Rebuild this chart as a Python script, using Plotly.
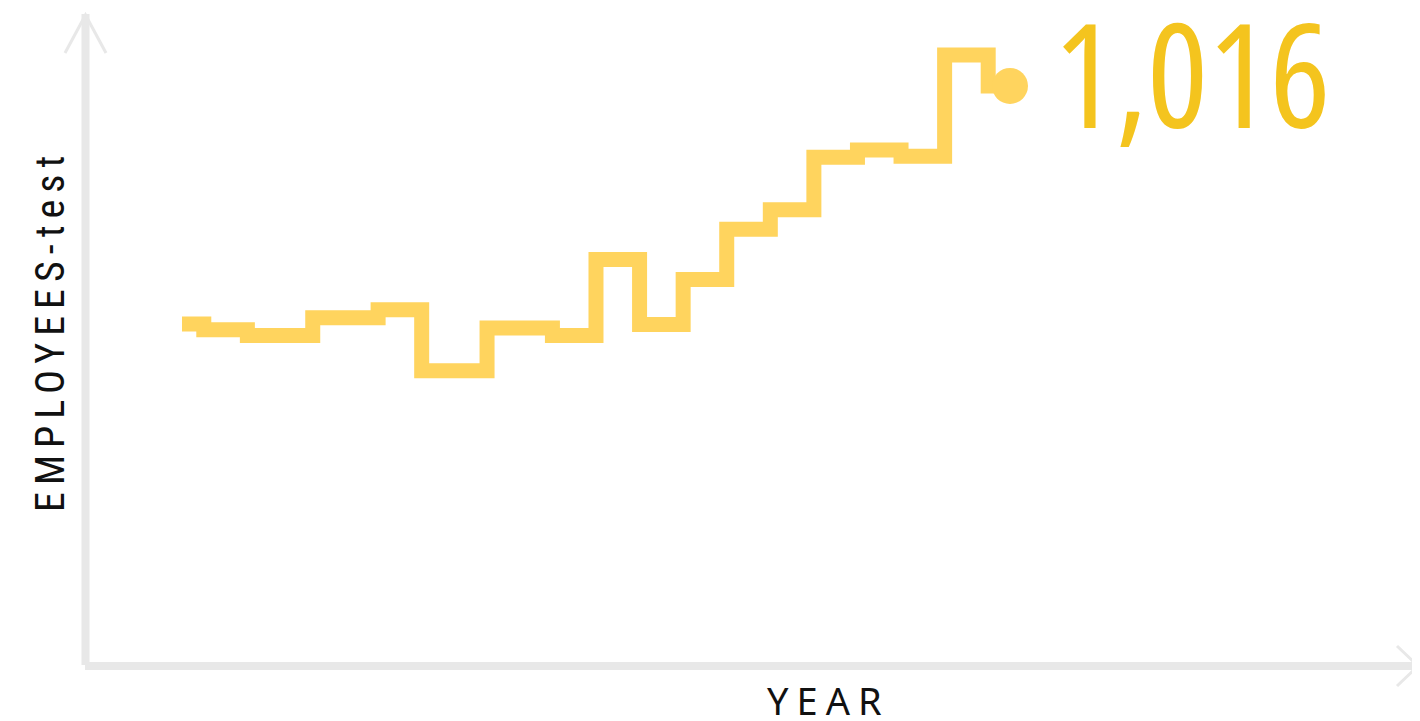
import plotly.graph_objects as go

# ---- data ----
years = [2000, 2001, 2002, 2004, 2005, 2006, 2008, 2009, 2010, 2011,
         2012, 2013, 2014, 2015, 2016, 2017, 2018, 2019]
employees = [599, 589, 579, 610, 624, 517, 592, 579, 712, 598,
             677, 765, 799, 891, 904, 893, 1070, 1016]
x_title = "YEAR"
y_title = "EMPLOYEES-test"

LINE_COLOR = "#FFD45E"
TEXT_COLOR = "#F4C41E"
AXIS_COLOR = "#E8E8E8"
OFF = 8  # page body margin
W, H = 1420 - OFF, 721 - OFF
ML, MR, MT, MB = 85 - OFF, 3, 14 - OFF, 55
PW, PH = W - ML - MR, H - MT - MB


def px(xp):
    return (xp - OFF - ML) / PW


def py(yp):
    return (H + OFF - MB - yp) / PH


fig = go.Figure()
fig.add_trace(go.Scatter(
    x=years, y=employees, mode="lines",
    line=dict(color=LINE_COLOR, width=15, shape="hvh"),
    hoverinfo="skip", showlegend=False,
))
fig.add_trace(go.Scatter(
    x=years[-1:], y=employees[-1:], mode="markers",
    marker=dict(color=LINE_COLOR, size=36, line=dict(width=0)),
    hoverinfo="skip", showlegend=False,
))

fig.add_annotation(
    x=years[-1], y=employees[-1], xref="x", yref="y",
    text=f'<span style="font-stretch:76%">{employees[-1]:,}</span>', showarrow=False,
    xanchor="left", yanchor="middle", xshift=42, yshift=14,
    font=dict(family="Open Sans", size=144, color=TEXT_COLOR),
)

fig.add_annotation(
    x=px(828), y=py(700), xref="paper", yref="paper",
    text=f'<span style="letter-spacing:8px;font-stretch:condensed">{x_title}</span>', showarrow=False,
    xanchor="center", yanchor="middle",
    font=dict(family="Noto Sans", size=38, color="#111111"),
)
fig.add_annotation(
    x=px(50), y=py(331), xref="paper", yref="paper",
    text=f'<span style="letter-spacing:7px;font-stretch:75%">{y_title}</span>', showarrow=False,
    textangle=-90, xanchor="center", yanchor="middle",
    font=dict(family="Roboto", size=40, color="#111111"),
)

shapes = [
    dict(type="line", xref="paper", yref="paper", x0=px(85.5), x1=px(85.5),
         y0=py(665), y1=py(14), line=dict(color=AXIS_COLOR, width=8)),
    dict(type="line", xref="paper", yref="paper", x0=px(85), x1=px(1417),
         y0=py(666), y1=py(666), line=dict(color=AXIS_COLOR, width=8)),
    dict(type="path", xref="paper", yref="paper",
         path=f"M {px(65)},{py(53)} L {px(85.5)},{py(15)} L {px(106)},{py(53)}",
         line=dict(color=AXIS_COLOR, width=3)),
    dict(type="path", xref="paper", yref="paper",
         path=f"M {px(1397)},{py(646)} L {px(1418)},{py(666)} L {px(1397)},{py(686)}",
         line=dict(color=AXIS_COLOR, width=3)),
]

fig.update_layout(
    width=W, height=H,
    margin=dict(l=ML, r=MR, t=MT, b=MB),
    paper_bgcolor="white", plot_bgcolor="white",
    xaxis=dict(range=[1997.774, 2028.34], visible=False, fixedrange=True),
    yaxis=dict(range=[0, 1142], visible=False, fixedrange=True),
    shapes=shapes,
    showlegend=False,
)

fig.write_html("out.html")
